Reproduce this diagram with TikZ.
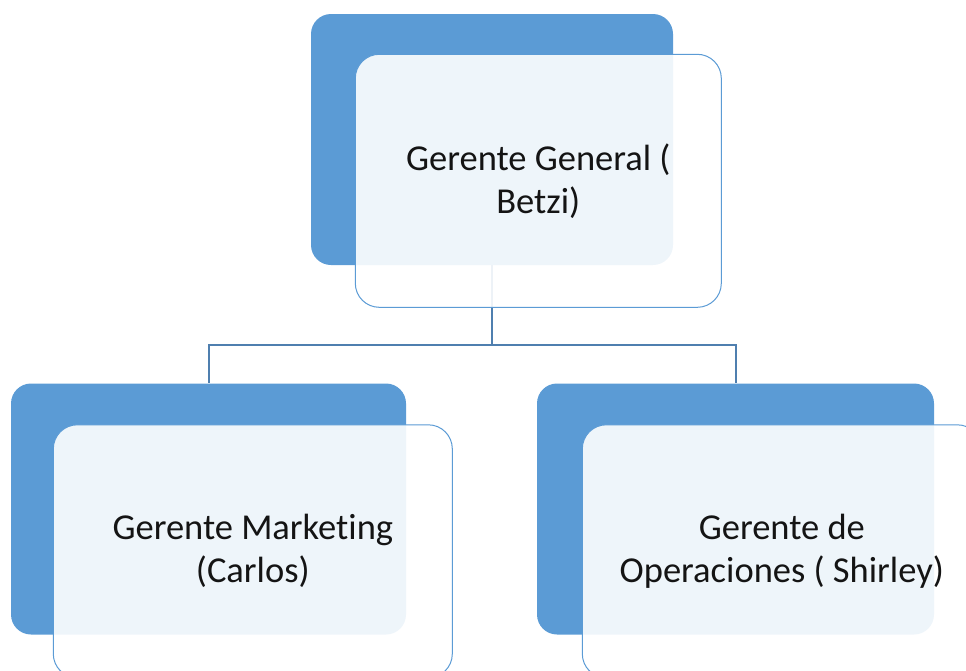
\documentclass[tikz,border=0pt]{standalone}
\usepackage{fontspec}
\setmainfont{Carlito}[Ligatures=NoCommon]
\usetikzlibrary{positioning}
\definecolor{officeblue}{HTML}{5B9BD5}
\definecolor{linkblue}{HTML}{4F7FAF}
\definecolor{inkgray}{HTML}{141414}

\begin{document}
\begin{tikzpicture}[
    x=1pt, y=1pt,
    backbox/.style={
        rectangle,
        fill=officeblue,
        rounded corners=20pt,
        minimum height=251pt,
        inner sep=0pt
    },
    frontbox/.style={
        rectangle,
        draw=officeblue,
        line width=1pt,
        fill=white,
        fill opacity=0.9,
        text opacity=1,
        rounded corners=24pt,
        minimum width=399pt,
        minimum height=253pt,
        align=center,
        inner sep=0pt,
        text=inkgray,
        font=\fontsize{36.5}{43}\selectfont
    },
    link/.style={draw=linkblue, line width=2pt}
]
\useasboundingbox (0,0) rectangle (966,-670);

% Back boxes
\node [backbox, minimum width=362pt] (gmback) at (492,-139.5) {};
\node [backbox, minimum width=395pt] (mkback) at (208.5,-509) {};
\node [backbox, minimum width=397pt] (opback) at (735.5,-509) {};

% Connectors
\draw [link] (gmback.south) -- ++(0,-80) coordinate (split);
\draw [link] (split) -| (mkback.north);
\draw [link] (split) -| (opback.north);

% Front boxes
\node [frontbox, minimum width=366pt, anchor=north west] (gm)
    at ([shift={(44,-40)}]gmback.north west) {Gerente General (\\Betzi)};
\node [frontbox, anchor=north west] (mk)
    at ([shift={(42,-41)}]mkback.north west) {Gerente Marketing\\(Carlos)};
\node [frontbox, anchor=north west] (op)
    at ([shift={(45,-41)}]opback.north west) {Gerente de\\Operaciones ( Shirley)};

\end{tikzpicture}
\end{document}
